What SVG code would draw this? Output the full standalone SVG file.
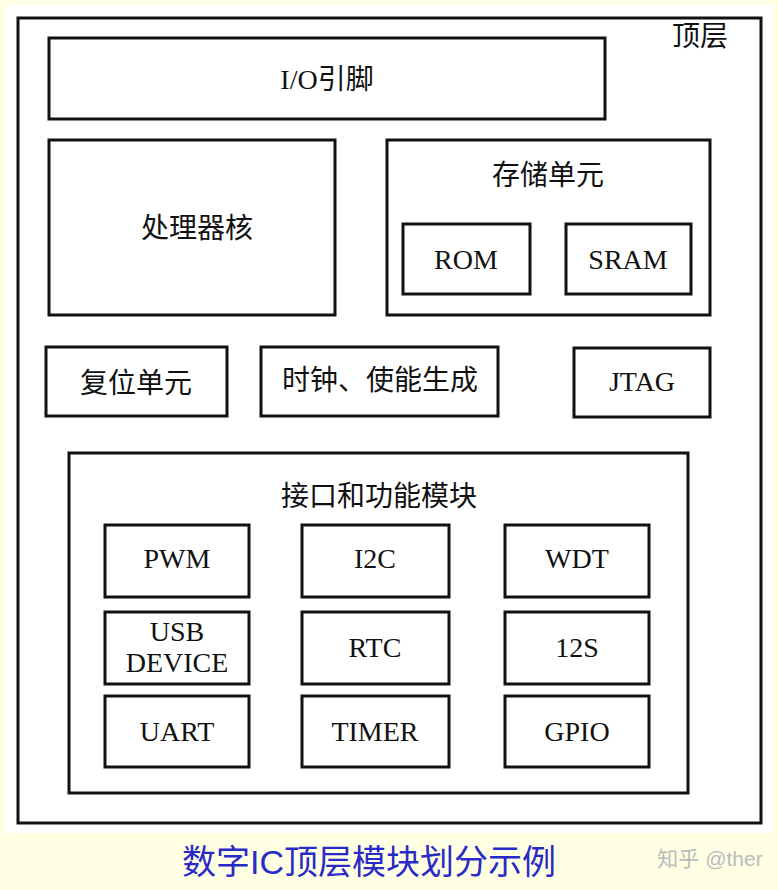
<svg xmlns="http://www.w3.org/2000/svg" width="778" height="890" viewBox="0 0 778 890">
<style>
.b{fill:#fff;stroke:#111;stroke-width:3}
.t{font-family:"Liberation Serif","Noto Sans CJK SC",serif;font-size:28px;fill:#111;text-anchor:middle}
.c{font-family:"Liberation Serif","Noto Sans CJK SC",serif;font-size:28px;fill:#111;text-anchor:middle}
</style>
<rect width="778" height="890" fill="#FFFFE4"/>
<rect x="5" y="5" width="768" height="828" fill="#fff"/>
<g id="top"><rect class="b" x="18" y="18" width="743" height="805"/><text class="c" x="700" y="46">顶层</text></g>
<g id="io"><rect class="b" x="49" y="38" width="556" height="81"/><text class="c" x="327" y="89">I/O引脚</text></g>
<g id="cpu"><rect class="b" x="49" y="140" width="286" height="175"/><text class="c" x="197" y="238">处理器核</text></g>
<g id="mem"><rect class="b" x="387" y="140" width="323" height="175"/><text class="c" x="548" y="185">存储单元</text></g>
<g id="rom"><rect class="b" x="403" y="224" width="127" height="70"/><text class="t" x="466" y="269">ROM</text></g>
<g id="sram"><rect class="b" x="566" y="224" width="125" height="70"/><text class="t" x="628" y="269">SRAM</text></g>
<g id="rst"><rect class="b" x="46" y="347" width="181" height="69"/><text class="c" x="136" y="393">复位单元</text></g>
<g id="clk"><rect class="b" x="261" y="347" width="237" height="69"/><text class="c" x="380" y="390">时钟、使能生成</text></g>
<g id="jtag"><rect class="b" x="574" y="348" width="136" height="69"/><text class="t" x="642" y="391">JTAG</text></g>
<g id="ifc"><rect class="b" x="69" y="453" width="619" height="340"/><text class="c" x="379" y="506">接口和功能模块</text></g>
<g id="pwm"><rect class="b" x="105" y="525" width="144" height="72"/><text class="t" x="177" y="568">PWM</text></g>
<g id="i2c"><rect class="b" x="302" y="525" width="147" height="72"/><text class="t" x="375" y="568">I2C</text></g>
<g id="wdt"><rect class="b" x="505" y="525" width="144" height="72"/><text class="t" x="577" y="568">WDT</text></g>
<g id="usb"><rect class="b" x="105" y="612" width="144" height="72"/><text class="t" x="177" y="641">USB</text><text class="t" x="177" y="672">DEVICE</text></g>
<g id="rtc"><rect class="b" x="302" y="612" width="147" height="72"/><text class="t" x="375" y="657">RTC</text></g>
<g id="i2s"><rect class="b" x="505" y="612" width="144" height="72"/><text class="t" x="577" y="657">12S</text></g>
<g id="uart"><rect class="b" x="105" y="696" width="144" height="71"/><text class="t" x="177" y="741">UART</text></g>
<g id="timer"><rect class="b" x="302" y="696" width="147" height="71"/><text class="t" x="375" y="741">TIMER</text></g>
<g id="gpio"><rect class="b" x="505" y="696" width="144" height="71"/><text class="t" x="577" y="741">GPIO</text></g>
<g id="connectors"/>
<text x="369" y="874" font-family="Liberation Sans,Noto Sans CJK SC,sans-serif" font-size="34" fill="#2a2ac8" text-anchor="middle">数字IC顶层模块划分示例</text>
<text x="710" y="866" font-family="Liberation Sans,Noto Sans CJK SC,sans-serif" font-size="21" fill="#bbb" text-anchor="middle">知乎 @ther</text>
</svg>
